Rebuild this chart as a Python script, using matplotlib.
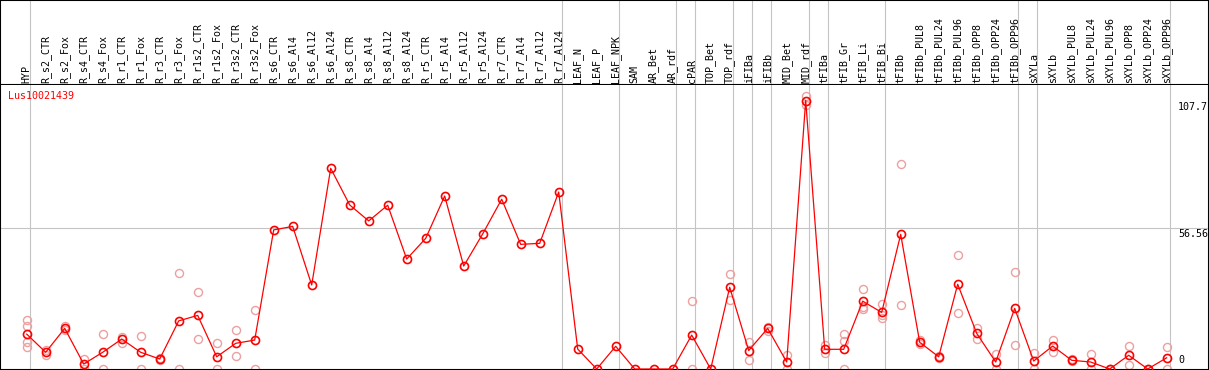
import numpy as np
import matplotlib
matplotlib.use('Agg')
import matplotlib.pyplot as plt

#sample names (columns)
samples = ['HYP', 'R_s2_CTR', 'R_s2_Fox', 'R_s4_CTR', 'R_s4_Fox', 'R_r1_CTR', 'R_r1_Fox',
           'R_r3_CTR', 'R_r3_Fox', 'R_r1s2_CTR', 'R_r1s2_Fox', 'R_r3s2_CTR', 'R_r3s2_Fox',
           'R_s6_CTR', 'R_s6_Al4', 'R_s6_Al12', 'R_s6_Al24', 'R_s8_CTR', 'R_s8_Al4',
           'R_s8_Al12', 'R_s8_Al24', 'R_r5_CTR', 'R_r5_Al4', 'R_r5_Al12', 'R_r5_Al24',
           'R_r7_CTR', 'R_r7_Al4', 'R_r7_Al12', 'R_r7_Al24', 'LEAF_N', 'LEAF_P', 'LEAF_NPK',
           'SAM', 'AR_Bet', 'AR_rdf', 'cPAR', 'TOP_Bet', 'TOP_rdf', 'iFIBa', 'iFIBb',
           'MID_Bet', 'MID_rdf', 'tFIBa', 'tFIB_Gr', 'tFIB_Li', 'tFIB_Bi', 'tFIBb',
           'tFIBb_PUL8', 'tFIBb_PUL24', 'tFIBb_PUL96', 'tFIBb_OPP8', 'tFIBb_OPP24',
           'tFIBb_OPP96', 'sXYLa', 'sXYLb', 'sXYLb_PUL8', 'sXYLb_PUL24', 'sXYLb_PUL96',
           'sXYLb_OPP8', 'sXYLb_OPP24', 'sXYLb_OPP96']

#mean expression per sample
means = [14.0, 6.7, 16.3, 2.0, 6.7, 12.0, 6.7, 4.0, 19.3, 21.5, 4.9, 10.3, 11.6,
         55.8, 57.2, 33.7, 80.5, 65.8, 59.4, 65.7, 44.1, 52.4, 69.4, 41.3, 54.2,
         68.1, 50.0, 50.4, 71.0, 8.0, 0.0, 9.1, 0.0, 0.0, 0.0, 13.6, 0.0, 32.8,
         7.4, 16.3, 2.8, 107.7, 7.9, 7.9, 27.2, 22.7, 54.0, 10.7, 4.9, 34.0, 14.3,
         2.8, 24.3, 3.2, 9.2, 3.5, 2.8, 0.0, 5.5, 0.0, 4.5]

#single replicates (faint circles)
replicates = [[19.6, 17.2, 11.0, 8.7], [7.6, 5.6], [17.2, 15.6], [4.0, 0.0], [13.9, 0.0],
              [13.0, 10.6], [13.4, 0.0], [4.3, 3.6], [38.4, 0.0], [30.8, 11.9], [10.3, 0.0],
              [15.6, 5.1], [23.5, 0.0],
              [], [], [], [], [], [], [], [], [], [], [], [], [], [], [], [],
              [], [], [], [], [], [],
              [27.2, 0.0], [], [38.0, 27.6], [10.8, 3.6], [17.0, 15.4], [5.5, 0.0],
              [109.5, 106.0], [9.5, 6.3], [14.0, 11.1, 0.0], [32.0, 25.0, 24.1],
              [26.1, 20.3, 21.6], [82.1, 25.5], [11.5, 10.0], [5.4, 4.4], [45.6, 22.3],
              [16.6, 11.9], [6.0, 0.0], [38.8, 9.6], [6.3, 0.0], [11.6, 6.7], [3.9, 3.1],
              [5.9, 0.0], [0.0, 0.0], [9.4, 1.5], [0.0, 0.0], [8.9, 0.0]]

#group separators come after these columns
group_ends = [0, 28, 31, 34, 35, 37, 38, 39, 41, 42, 45, 52, 53, 60]

gene = 'Lus10021439'
ymark = [0, 56.56, 107.7]

W, H = 1209, 370
top_px = 85
x0_px, step_px = 26.7, 19.0
px_per_unit = 2.493

fig = plt.figure(figsize=[W / 100, H / 100], dpi=100)
fig.patch.set_facecolor('white')

xlim = (-x0_px / step_px, (W - x0_px) / step_px)
ylim = (-1 / px_per_unit, (H - 1 - top_px) / px_per_unit)

#header with rotated column names
hx = fig.add_axes([0, 1 - top_px / H, 1, top_px / H])
hx.set_xlim(xlim)
hx.set_ylim(0, 1)
hx.set_xticks([])
hx.set_yticks([])
for s in hx.spines.values():
    s.set_color('black')
    s.set_linewidth(1.5)
for i, name in enumerate(samples):
    hx.text(i, 0.02, name, rotation=90, ha='center', va='bottom',
            family='DejaVu Sans Mono', fontsize=7.2, color='black')

#main plot
ax = fig.add_axes([0, 0, 1, 1 - top_px / H])
ax.set_xlim(xlim)
ax.set_ylim(ylim)
ax.set_xticks([])
ax.set_yticks([])
for s in ax.spines.values():
    s.set_color('black')
    s.set_linewidth(1.5)
ax.spines['top'].set_visible(False)

for g in group_ends:
    ax.axvline(g + 0.18, color='#c4c4c4', lw=0.8, zorder=1)
    hx.axvline(g + 0.18, color='#c4c4c4', lw=0.8, zorder=1)
ax.axhline(ymark[1], color='#c4c4c4', lw=0.8, zorder=1)

xs = np.arange(len(samples))
for i, r in enumerate(replicates):
    if len(r) > 0:
        ax.plot([i] * len(r), r, 'o', ms=5.8, mfc='none', mec='#eda0a0', mew=1.0, zorder=2)
ax.plot(xs, means, '-', color='red', lw=0.9, zorder=3)
ax.plot(xs, means, 'o', ms=5.8, mfc='none', mec='red', mew=1.2, zorder=4)

ax.text(0.007, 0.98, gene, transform=ax.transAxes, ha='left', va='top',
        family='DejaVu Sans Mono', fontsize=7.2, color='red')

#value marks on the right
tr = ax.get_yaxis_transform()
xr = 1178 / W
ax.text(xr, ymark[2] - 0.6, '107.7', transform=tr, ha='left', va='top',
        family='DejaVu Sans Mono', fontsize=7.2, clip_on=False)
ax.text(xr, ymark[1] - 0.4, '56.56', transform=tr, ha='left', va='top',
        family='DejaVu Sans Mono', fontsize=7.2, clip_on=False)
ax.text(xr, ymark[0] + 1.6, '0', transform=tr, ha='left', va='bottom',
        family='DejaVu Sans Mono', fontsize=7.2, clip_on=False)

fig.savefig('out.png', dpi=100)
